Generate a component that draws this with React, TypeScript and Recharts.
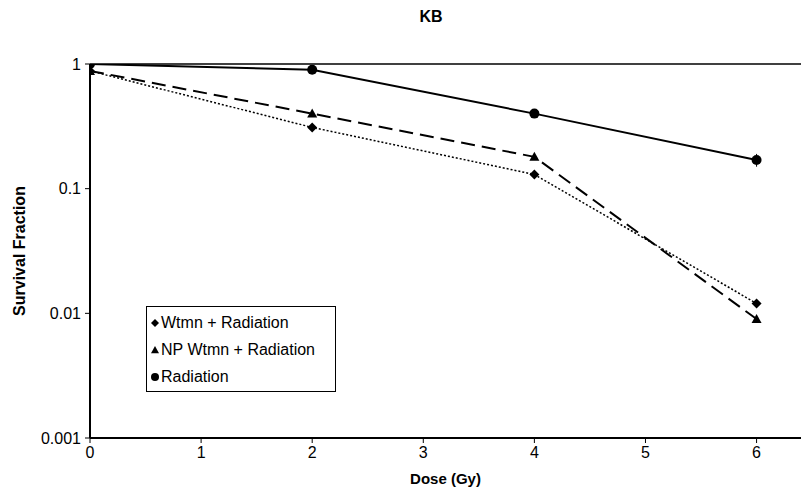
import { LineChart, Line, XAxis, YAxis, ReferenceLine, Legend, Label, ErrorBar } from 'recharts'

const DOSES = [0, 2, 4, 6]
const WTMN = [0.88, 0.31, 0.13, 0.012]
const NP_WTMN = [0.88, 0.4, 0.18, 0.009]
const RADIATION = [1, 0.9, 0.4, 0.17]
const RADIATION_ERR = [0, 0, 0, 0.02]
const X_TICKS = [0, 1, 2, 3, 4, 5, 6]
const Y_TICKS = [0.001, 0.01, 0.1, 1]

const SERIES = [
  { key: 'wtmn', name: 'Wtmn + Radiation', shape: 'diamond' },
  { key: 'np', name: 'NP Wtmn + Radiation', shape: 'triangle' },
  { key: 'rad', name: 'Radiation', shape: 'circle' },
]

const data = DOSES.map((d, i) => ({
  dose: d,
  wtmn: WTMN[i],
  np: NP_WTMN[i],
  rad: RADIATION[i],
  radErr: RADIATION_ERR[i],
}))

const FONT = '"Liberation Sans", Arial, sans-serif'

function Marker({ shape, cx, cy, size = 5 }: { shape: string; cx: number; cy: number; size?: number }) {
  if (shape === 'diamond') {
    return <polygon points={`${cx},${cy - size} ${cx + size},${cy} ${cx},${cy + size} ${cx - size},${cy}`} fill="#000" />
  }
  if (shape === 'triangle') {
    return <polygon points={`${cx},${cy - size} ${cx + size},${cy + size * 0.8} ${cx - size},${cy + size * 0.8}`} fill="#000" />
  }
  return <circle cx={cx} cy={cy} r={size} fill="#000" />
}

const dotFor = (shape: string) => (props: any) => (
  <Marker key={`${shape}-${props.index}`} shape={shape} cx={props.cx} cy={props.cy} />
)

function LegendBox() {
  return (
    <div
      style={{
        border: '1.5px solid #000',
        background: '#fff',
        padding: '2px 20px 1px 3px',
        fontFamily: FONT,
        fontSize: 16,
        color: '#000',
      }}
    >
      {SERIES.map((s) => (
        <div key={s.key} style={{ display: 'flex', alignItems: 'center', height: 27 }}>
          <svg width={11} height={12}>
            <Marker shape={s.shape} cx={5} cy={6} size={4} />
          </svg>
          <span>{s.name}</span>
        </div>
      ))}
    </div>
  )
}

export default function App() {
  return (
    <div style={{ position: 'absolute', left: 0, top: 0, width: 802, height: 494, background: '#fff' }}>
      <div
        style={{
          position: 'absolute',
          left: 0,
          width: 862,
          top: 8,
          textAlign: 'center',
          fontFamily: FONT,
          fontWeight: 'bold',
          fontSize: 16,
        }}
      >
        KB
      </div>
      <LineChart
        width={802}
        height={494}
        data={data}
        margin={{ top: 64, right: 1, bottom: 0, left: 0 }}
        style={{ fontFamily: FONT }}
      >
        <XAxis
          dataKey="dose"
          type="number"
          domain={[0, 6.4]}
          ticks={X_TICKS}
          allowDataOverflow
          height={56}
          axisLine={{ stroke: '#000', strokeWidth: 2 }}
          tickLine={{ stroke: '#000' }}
          tickSize={5}
          tick={{ fill: '#000', fontSize: 16 }}
          tickMargin={4}
        >
          <Label value="Dose (Gy)" position="insideBottom" offset={10} style={{ fontWeight: 'bold', fontSize: 15, fill: '#000' }} />
        </XAxis>
        <YAxis
          type="number"
          scale="log"
          domain={[0.001, 1]}
          ticks={Y_TICKS}
          allowDataOverflow
          width={90}
          axisLine={{ stroke: '#000', strokeWidth: 2 }}
          tickLine={{ stroke: '#000' }}
          tickSize={5}
          tick={{ fill: '#000', fontSize: 16 }}
          tickMargin={4}
        >
          <Label
            value="Survival Fraction"
            angle={-90}
            position="insideLeft"
            offset={19}
            style={{ textAnchor: 'middle', fontWeight: 'bold', fontSize: 16, fill: '#000' }}
          />
        </YAxis>
        <ReferenceLine y={1} stroke="#000" strokeWidth={1.5} />
        <Line
          dataKey="wtmn"
          name="Wtmn + Radiation"
          stroke="#000"
          strokeWidth={1.5}
          strokeDasharray="2 2"
          dot={dotFor('diamond')}
          isAnimationActive={false}
        />
        <Line
          dataKey="np"
          name="NP Wtmn + Radiation"
          stroke="#000"
          strokeWidth={2}
          strokeDasharray="14 7"
          dot={dotFor('triangle')}
          isAnimationActive={false}
        />
        <Line
          dataKey="rad"
          name="Radiation"
          stroke="#000"
          strokeWidth={2}
          dot={dotFor('circle')}
          isAnimationActive={false}
        >
          <ErrorBar dataKey="radErr" width={0} stroke="#000" strokeWidth={1} direction="y" />
        </Line>
        <Legend
          layout="vertical"
          align="center"
          verticalAlign="middle"
          content={<LegendBox />}
          wrapperStyle={{ left: 146, top: 306, width: 'auto', height: 'auto' }}
        />
      </LineChart>
    </div>
  )
}
